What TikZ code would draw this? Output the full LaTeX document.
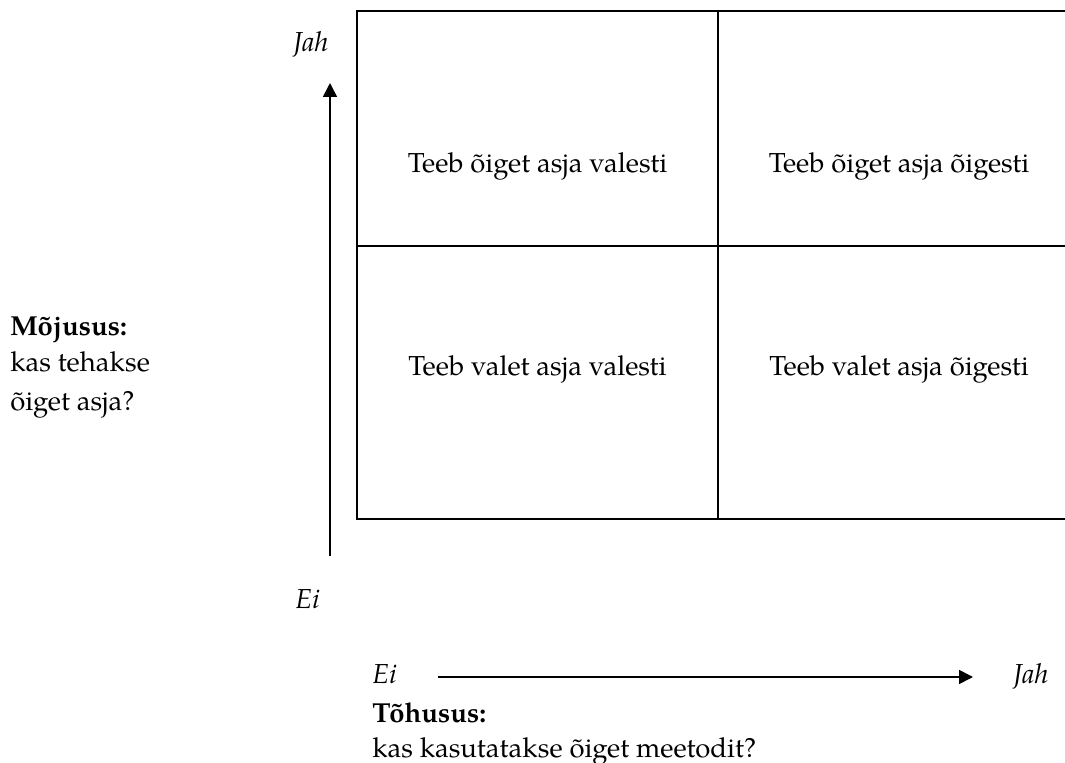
\documentclass[tikz,border=0pt]{standalone}
\usepackage{fontspec}
\setmainfont{TeX Gyre Pagella}
\usetikzlibrary{arrows.meta}
\begin{document}
\begin{tikzpicture}[x=0.75pt,y=-0.75pt,
  lbl/.style={inner sep=0pt,anchor=base west,font=\fontsize{20.6}{28}\selectfont},
  celltext/.style={inner sep=0pt,anchor=base,font=\fontsize{20.6}{28}\selectfont},
  gridline/.style={line width=1.2pt},
  axis/.style={line width=1.2pt,-{Triangle[length=10.5pt,width=10.5pt]}}]
\useasboundingbox (0,0) rectangle (1065,763);
\clip (0,0) rectangle (1065,763);

% 2x2 matrix
\draw[gridline] (357,11) rectangle (1080,519);
\draw[gridline] (718,11) -- (718,519);
\draw[gridline] (357,246) -- (1080,246);

\node[celltext] (c11) at (537.5,173) {Teeb õiget asja valesti};
\node[celltext] (c12) at (899,173) {Teeb õiget asja õigesti};
\node[celltext] (c21) at (537.5,375) {Teeb valet asja valesti};
\node[celltext] (c22) at (899,375) {Teeb valet asja õigesti};

% vertical axis
\coordinate (vbot) at (330,556);
\coordinate (vtop) at (330,83);
\draw[axis] (vbot) -- (vtop);
\node[lbl] (vyes) at (293,52) {\itshape Jah};
\node[lbl] (vno) at (295,608) {\itshape Ei};

\node[lbl] (vt1) at (10,335) {\bfseries Mõjusus:};
\node[lbl] (vt2) at (10,372) {kas tehakse};
\node[lbl] (vt3) at (10,410) {õiget asja?};

% horizontal axis
\coordinate (hleft) at (438,677);
\coordinate (hright) at (973,677);
\draw[axis] (hleft) -- (hright);
\node[lbl] (hno) at (372,683) {\itshape Ei};
\node[lbl] (hyes) at (1013,683) {\itshape Jah};

\node[lbl] (ht1) at (372,722) {\bfseries Tõhusus:};
\node[lbl] (ht2) at (372,757) {kas kasutatakse õiget meetodit?};
\end{tikzpicture}
\end{document}
